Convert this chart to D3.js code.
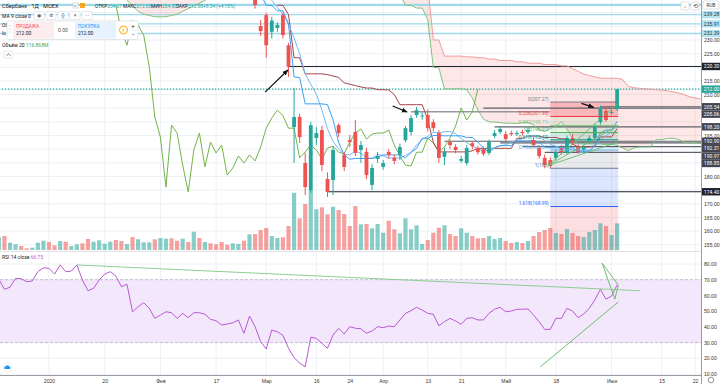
<!DOCTYPE html>
<html><head><meta charset="utf-8">
<script src="https://cdn.jsdelivr.net/npm/d3@7"></script>
<style>html,body{margin:0;padding:0;background:#fff;}svg{display:block;font-family:Roboto,"Liberation Sans",Arial,sans-serif;}</style>
</head><body><svg id="c" width="720" height="384"></svg>
<script>
// ---------------- DATA ----------------
const tickLabels = ["2020","20","Фев","17","Мар","16","24","Апр","13","21","Май","18","Июн","15","22"];
const tickBars   = [0,10,20,30,39,48,54,60,68,74,82,91,101,110,116];

const firstCandle = 37;
const opens = [246.5,235.1,239.1,233.0,234.4,239.1,228.1,198.1,201.8,184.9,
 175.0,194.1,197.0,179.1,178.7,198.8,187.9,193.3,196.3,189.7,
 189.0,176.9,186.4,183.5,189.0,186.8,187.9,193.3,196.3,202.5,
 202.1,202.5,199.9,195.9,187.2,192.6,190.8,185.7,184.9,192.2,
 190.4,190.0,188.6,194.8,196.3,195.5,195.9,195.5,196.3,196.3,
 193.3,190.5,186.8,186.0,186.8,190.4,188.6,194.1,190.8,189.7,
 192.6,194.1,199.9,204.0,203.3,204.67];
const highs = [247.5,237.3,240.0,238.5,236.5,240.0,229.0,212.5,203.0,188.6,
 200.0,198.1,198.5,181.5,191.0,199.5,189.0,195.2,200.7,193.0,
 190.5,184.5,189.0,186.0,190.0,188.0,192.0,198.5,202.5,205.5,
 203.5,204.5,201.0,197.0,190.5,193.5,191.8,187.5,191.5,193.0,
 191.2,191.0,193.5,197.0,198.5,196.5,196.8,196.8,197.2,198.0,
 194.5,191.5,188.0,187.0,190.0,191.5,195.0,195.5,191.8,191.5,
 195.0,199.3,206.0,205.5,204.5,212.0];
const lows = [241.5,231.5,223.4,230.5,233.0,230.5,216.5,184.9,192.3,173.2,
 174.0,191.5,182.0,172.5,173.2,194.5,182.0,190.8,187.5,185.0,
 179.0,175.0,185.0,182.5,186.5,184.5,186.0,192.5,195.0,201.5,
 200.8,196.5,196.5,185.0,184.2,190.0,188.5,185.0,184.0,190.0,
 188.0,187.5,187.8,194.0,195.5,193.0,194.8,194.8,195.0,195.5,
 190.5,186.5,183.0,183.0,186.0,188.0,188.0,191.5,188.3,189.0,
 192.0,193.5,199.0,200.0,202.6,204.0];
const closes = [242.8,233.3,228.1,237.1,235.5,231.8,220.2,201.8,194.4,176.1,
 198.8,195.9,184.2,174.3,189.7,195.9,183.5,192.6,188.6,191.5,
 180.5,183.1,187.5,184.9,187.9,185.7,190.8,197.7,201.4,204.3,
 202.3,197.7,197.7,186.8,189.0,191.5,189.7,186.4,190.4,191.1,
 188.9,188.3,192.6,195.9,197.4,193.7,195.5,195.9,195.9,197.0,
 191.5,187.5,184.2,183.8,188.9,188.9,194.1,192.2,189.0,190.8,
 194.1,198.5,205.1,200.7,203.66,212.0];

const firstVol = -9;
const volumes = [55.6,61.3,32,25,17.5,7.4,10.1,32,40.7,35,
 20.6,39.4,36.4,17.5,25,29.3,48.2,36.4,42.5,27.6,
 36.4,43.8,39.4,26.3,56.9,46.9,33.7,33.7,46.9,52.6,
 49.5,51.2,40.7,49.5,35,80.2,52.6,35,29.3,25,
 35,23.2,29.3,26.3,40.7,68.8,70,87.6,96.4,61.3,
 52.6,55.6,105,251,138.8,201.5,262.8,178.3,187,156.4,
 189.7,175.2,157.7,105.1,192.7,112.6,113.9,95,113.9,75.8,
 128.3,90.7,73.1,138.8,90.7,108.2,26.3,43.8,75.8,97.7,
 108.2,70.1,61.3,95,75.8,61.3,51.2,52.6,61.3,48.2,
 52.6,39.4,30.7,35,30.7,39.4,61.3,78.8,87.6,96.4,
 74.5,70.1,92,74.5,61.3,56.9,78.8,87.6,117,105.1,
 65.7,116.868];
const volUpEarly = [1,0,1,1,0,0,1,1,1,0, 0,1,0,1,1,0,0,1,1,1, 1,0,0,1,0,1,1,1,0,1, 1,0,0,1,0,1,0,1,0,0, 0,0,1,1,0,1];

const firstRsi = -9;
const rsi = [70.3,63.9,65.2,70.9,70.6,68.7,69.2,75.1,77.6,77.2,
 73.6,79.4,75.1,75.5,79.4,69.8,63.0,64.5,69.8,73.6,
 75.1,72.4,65.6,67.1,49.6,52.8,55.4,51.8,45.4,47.5,
 49.6,49.0,45.4,48.6,45.8,49.0,49.0,48.0,44.8,43.9,
 41.2,41.8,42.6,44.4,35.9,46.9,40.1,30.6,25.9,38.0,
 36.9,34.6,26.4,20.4,17.0,14.5,33.4,32.7,29.5,26.4,
 34.8,39.1,35.5,40.1,39.1,38.8,35.9,37.4,40.1,39.5,
 40.5,40.1,44.4,48.6,50.3,52.4,50.7,48.6,48.0,40.7,
 43.3,45.4,43.7,41.6,45.4,45.8,44.4,44.4,48.6,51.2,
 52.4,49.6,50.1,51.2,51.2,51.4,47.5,43.3,38.4,38.4,
 45.4,45.4,51.8,50.1,45.8,48.2,51.8,57.1,63.9,57.6,
 59.6,66.75];

const firstTenkan = 38;
const tenkan = [246.8,242.7,242.7,240.7,240.7,235.8,216.5,216.2,206.6,206.6,
 206.6,206.6,206.3,200.8,192.5,187.8,186.3,186.6,186.6,186.6,
 186.6,187.0,187.9,187.9,187.9,187.9,186.8,188.8,190.3,194.0,
 194.0,195.0,195.0,194.9,194.9,194.9,194.9,194.3,194.3,192.5,
 190.5,188.8,190.5,191.3,191.3,191.3,193.0,193.0,193.0,193.2,
 192.5,190.8,190.5,190.5,190.5,190.5,190.5,189.3,189.3,189.3,
 191.2,196.0,197.0,197.0,200.2];
const firstMa9 = 39;
const ma9 = [247.0,244.5,242.0,239.4,235.9,230.7,225.0,217.6,213.8,210.2,
 204.3,197.5,192.8,190.1,188.1,187.9,189.3,188.5,186.8,186.6,
 188.1,187.6,186.7,186.9,186.7,187.7,188.8,191.5,193.6,194.7,
 196.2,196.0,196.4,196.5,195.6,193.9,192.4,191.1,190.2,189.1,
 189.8,190.5,191.2,191.6,192.6,193.3,193.8,194.7,195.0,194.5,
 193.2,191.7,191.1,190.4,190.2,189.8,188.9,188.8,189.6,191.1,
 193.5,194.8,196.5,198.5];
const firstKijun = 41;
const kijun = [242.7,242.7,239.3,223.5,223.5,217.6,217.6,217.6,217.6,217.3,
 216.8,216.3,214.3,213.8,213.3,212.8,212.4,212.4,211.8,211.8,
 211.7,210.0,206.3,206.3,206.3,206.3,206.3,200.8,192.5,189.0,
 189.0,189.0,189.0,189.0,189.0,189.4,190.3,190.3,190.3,190.3,
 190.3,190.3,190.3,194.0,194.0,194.8,194.8,194.8,194.3,194.3,
 194.3,193.8,193.8,192.0,190.8,190.8,190.8,191.2,194.5,194.5,
 194.5,197.5];
const laggingShift = 25;

const spanEarlyStart = 13;
const spanAEarly = [247.0,244.6,242.5,240.5,239.5,239.0,238.5,238.5,238.5,239.0,239.5,240.5,241.5,242.5,243.5,244.5,246.0,248.0,251.0];
const spanBEarly = [250,250,250,250,250,250,250,250,250,250,250,250,250,250,250,250,250,250,250];
const spanLateStart = 63;
const spanALate = [247.0,242.7,242.7,241.7,241.7,237.5,220.0,219.8,212.1,212.1,212.1,212.1,211.8,208.8,204.4,201.0,200.0,199.9,199.7,199.5,
 199.5,199.4,199.8,199.8,198.9,197.1,196.5,197.5,198.3,200.1,197.4,193.8,192.0,191.9,191.9,191.9,191.9,191.6,191.8,191.4,
 190.4,189.5,190.4,190.8,190.8,190.8,193.5,193.5,193.9,194.0,193.6,192.5,192.4,192.4,192.1];
const spanBLate = [250,250,250,250,250,250,230.0,230.0,224.1,224.1,224.1,224.1,223.8,223.8,223.5,223.5,223.0,223.0,222.5,222.5,
 222.5,222.0,222.0,221.5,221.5,221.5,221.0,221.0,221.0,220.5,220.5,219.5,218.5,217.5,217.0,216.5,216.0,216.0,216.0,216.0,
 215.5,213.0,212.5,212.3,212.1,212.0,211.8,211.6,211.4,211.0,210.6,210.0,209.2,208.8,208.4];

const levelPrices  = [242.90,239.28,235.91,232.39,220.30,212.00,205.54,205.06,198.20,192.90,192.31,190.97,188.85,174.40];
const levelFromBar = [-9,-9,-9,-9,43,-9,99,78,80,71,81,85,89,50];
const levelGroup   = ["alert","alert","alert","alert","line","last","zone","zone","zone","zone","zone","zone","zone","line"];
const levelHasLabel= [false,true,true,true,true,true,true,true,true,true,true,true,true,true];
const segPrices = [203.7]; const segFrom = [65]; const segTo = [90];

const fibRatios = [0,0.236,0.382,0.5,0.618,0.786,1,1.618,2.618];
const fibPrices = [207.27,201.98,198.71,196.07,193.43,189.67,183,168.99,143.73];
const fibFrom = 90, fibTo = 102.2;
const fanFrom = [89.6,184.0];
const fanTo = [[102,206.5],[102,198.5],[102,192.5]];

const arrowFrom = [[38.8,210.9],[61.7,205.8],[95.6,206.8]];
const arrowTo   = [[42.9,219.0],[64.3,203.6],[97.8,205.3]];

const rsiLines = [[5,79.4,106.1,63.0],[88.2,14.5,102.2,55.8],[99.3,80.6,102.2,66.6],[99.3,80.6,101.6,57.7],[102.2,66.6,101.6,57.7]];
const priceTicks = [155,160,165,170,175,180,185,190,195,200,205,210,215,220,225,230,235,240];
const rsiTicks = [10,20,30,40,50,60,70,80];

// ---------------- CHART ----------------
const svg = d3.select("#c");
const PR = 701;
const x = d3.scaleLinear().domain([-8.797, 117.06]).range([0, PR]);
const y = d3.scaleLinear().domain([155, 230]).range([244.7, 40]);
const yV = d3.scaleLinear().domain([0, 263]).range([250, 190]);
const yR = d3.scaleLinear().domain([10, 80]).range([374, 264]);
const UP = "#26a69a", DN = "#ef5350";
const AF = 5.1; // axis font size

svg.append("rect").attr("width",720).attr("height",384).attr("fill","#fff");
const defs = svg.append("defs");
defs.append("clipPath").attr("id","cm").append("rect").attr("x",0).attr("y",0).attr("width",PR).attr("height",250.5);
defs.append("clipPath").attr("id","cr").append("rect").attr("x",0).attr("y",252).attr("width",PR).attr("height",123.5);
const mk = defs.append("marker").attr("id","ah").attr("viewBox","0 0 10 10").attr("refX",9).attr("refY",5)
  .attr("markerWidth",5).attr("markerHeight",5).attr("orient","auto");
mk.append("path").attr("d","M0,1 L10,5 L0,9 z").attr("fill","#111");

// grid
const grid = svg.append("g");
tickBars.forEach(b => grid.append("line").attr("x1",x(b)).attr("x2",x(b)).attr("y1",0).attr("y2",375.5).attr("stroke","#edf0f5"));
priceTicks.forEach(p => { const yy=y(p); if(yy>=0&&yy<=250) grid.append("line").attr("x1",0).attr("x2",PR).attr("y1",yy).attr("y2",yy).attr("stroke","#edf0f5"); });
rsiTicks.forEach(r => grid.append("line").attr("x1",0).attr("x2",PR).attr("y1",yR(r)).attr("y2",yR(r)).attr("stroke","#edf0f5"));

const gm = svg.append("g").attr("clip-path","url(#cm)");

// cloud
function spanData(start, a, b){ return a.map((v,k)=>({i:start+k,a:v,b:b[k]})); }
const cloudSets = [spanData(spanEarlyStart, spanAEarly, spanBEarly), spanData(spanLateStart, spanALate, spanBLate)];
const cloudArea = d3.area().x(d=>x(d.i)).y0(d=>y(d.a)).y1(d=>y(d.b));
cloudSets.forEach(s => gm.append("path").datum(s).attr("d",cloudArea).attr("fill","rgba(244,67,54,0.12)"));

// fib fills
for(let k=0;k<fibPrices.length-1;k++){
  const fc = ["#f23645","#81c784","#4caf50","#089981","#64b5f6","#787b86","#2962ff","#f23645"][k];
  gm.append("rect").attr("x",x(fibFrom)).attr("width",x(fibTo)-x(fibFrom))
    .attr("y",y(fibPrices[k])).attr("height",y(fibPrices[k+1])-y(fibPrices[k]))
    .attr("fill",fc).attr("opacity",k===0?0.28:0.16);
}

// volume
volumes.forEach((v,k)=>{
  const i = firstVol + k;
  let up;
  if(i < firstCandle) up = volUpEarly[i-firstVol]===1;
  else { const c=i-firstCandle; up = closes[c] >= opens[c]; }
  gm.append("rect").attr("x",x(i)-2.1).attr("width",4.2).attr("y",yV(v)).attr("height",250-yV(v))
    .attr("fill", up ? "rgba(38,166,154,0.55)" : "rgba(239,83,80,0.55)");
});

// level lines
const levelStyle = {
  alert:{stroke:"#9dd9ea",w:1.4,dash:null,bg:"#b4e4f0",fg:"#17324a"},
  line:{stroke:"#1e222d",w:1,dash:null,bg:"#1e222d",fg:"#fff"},
  last:{stroke:"#26a69a",w:1.2,dash:"1.5,1.5",bg:"#26a69a",fg:"#fff"},
  zone:{stroke:"#5d606b",w:1.2,dash:null,bg:"#434651",fg:"#fff"}
};
levelPrices.forEach((p,k)=>{
  const st = levelStyle[levelGroup[k]];
  const ln = gm.append("line").attr("x1",x(levelFromBar[k])).attr("x2",PR).attr("y1",y(p)).attr("y2",y(p))
    .attr("stroke",st.stroke).attr("stroke-width",k===0?2.2:st.w);
  if(st.dash) ln.attr("stroke-dasharray",st.dash);
});
segPrices.forEach((p,k)=> gm.append("line").attr("x1",x(segFrom[k])).attr("x2",x(segTo[k])).attr("y1",y(p)).attr("y2",y(p))
  .attr("stroke","#9598a1").attr("stroke-width",1.6));

// cloud lines
const lineA = d3.line().x(d=>x(d.i)).y(d=>y(d.a));
const lineB = d3.line().x(d=>x(d.i)).y(d=>y(d.b));
cloudSets.forEach(s=>{
  gm.append("path").datum(s).attr("d",lineA).attr("fill","none").attr("stroke","#7fc27f").attr("stroke-width",1);
  gm.append("path").datum(s).attr("d",lineB).attr("fill","none").attr("stroke","#ee9a9a").attr("stroke-width",1);
});

// indicator lines
function series(start, arr){ return arr.map((v,k)=>({i:start+k,v:v})); }
const lineV = d3.line().x(d=>x(d.i)).y(d=>y(d.v));
gm.append("path").datum(series(firstCandle-laggingShift, closes)).attr("d",lineV).attr("fill","none").attr("stroke","#73b348").attr("stroke-width",1);
gm.append("path").datum(series(firstKijun, kijun)).attr("d",lineV).attr("fill","none").attr("stroke","#a4454b").attr("stroke-width",1);
gm.append("path").datum(series(firstMa9, ma9)).attr("d",lineV).attr("fill","none").attr("stroke","#72b9f2").attr("stroke-width",1);
gm.append("path").datum(series(firstTenkan, tenkan)).attr("d",lineV).attr("fill","none").attr("stroke","#3d9ef0").attr("stroke-width",1);

// candles
opens.forEach((o,k)=>{
  const i = firstCandle+k, c = closes[k], up = c>=o, col = up?UP:DN;
  gm.append("line").attr("x1",x(i)).attr("x2",x(i)).attr("y1",y(highs[k])).attr("y2",y(lows[k])).attr("stroke",col).attr("stroke-width",1);
  const top = y(Math.max(o,c)), bot = y(Math.min(o,c));
  gm.append("rect").attr("x",x(i)-1.9).attr("width",3.8).attr("y",top).attr("height",Math.max(0.8,bot-top)).attr("fill",col);
});

// fib lines + labels
const fibCols = ["#787b86","#f23645","#81c784","#4caf50","#089981","#64b5f6","#787b86","#2962ff","#f23645"];
const fmtP = p => (p%1===0) ? String(p) : p.toFixed(2);
fibPrices.forEach((p,k)=>{
  gm.append("line").attr("x1",x(fibFrom)).attr("x2",x(fibTo)).attr("y1",y(p)).attr("y2",y(p)).attr("stroke",fibCols[k]).attr("stroke-width",1);
  gm.append("text").attr("x",x(fibFrom)-1.5).attr("y",y(p)-1.2).attr("text-anchor","end").attr("font-size",4.8)
    .attr("fill",fibCols[k]).text(fibRatios[k]+"("+fmtP(p)+")");
});
fanTo.forEach(t=> gm.append("line").attr("x1",x(fanFrom[0])).attr("y1",y(fanFrom[1])).attr("x2",x(t[0])).attr("y2",y(t[1]))
  .attr("stroke","#66bb6a").attr("stroke-width",0.9));
arrowFrom.forEach((f,k)=> gm.append("line").attr("x1",x(f[0])).attr("y1",y(f[1])).attr("x2",x(arrowTo[k][0])).attr("y2",y(arrowTo[k][1]))
  .attr("stroke","#111").attr("stroke-width",1.2).attr("marker-end","url(#ah)"));

// separators
svg.append("line").attr("x1",0).attr("x2",PR).attr("y1",251.5).attr("y2",251.5).attr("stroke","#dfe1e6");
// RSI pane
const gr = svg.append("g").attr("clip-path","url(#cr)");
gr.append("rect").attr("x",0).attr("width",PR).attr("y",yR(70)).attr("height",yR(30)-yR(70)).attr("fill","#f3e7fc");
[70,30].forEach(r=> gr.append("line").attr("x1",0).attr("x2",PR).attr("y1",yR(r)).attr("y2",yR(r)).attr("stroke","#b9b1c6").attr("stroke-dasharray","3,2").attr("stroke-width",0.8));
gr.append("path").datum(series(firstRsi, rsi)).attr("d", d3.line().x(d=>x(d.i)).y(d=>yR(d.v)))
  .attr("fill","none").attr("stroke","#b85ad1").attr("stroke-width",1);
rsiLines.forEach((l,k)=> gr.append("line").attr("x1",x(l[0])).attr("y1",yR(l[1])).attr("x2",x(l[2])).attr("y2",yR(l[3]))
  .attr("stroke", k===0?"#8bcf8f":"#6cbf70").attr("stroke-width",1));

// axes frames
svg.append("line").attr("x1",PR+0.5).attr("x2",PR+0.5).attr("y1",0).attr("y2",384).attr("stroke","#9a9ca4");
svg.append("line").attr("x1",0).attr("x2",PR+0.5).attr("y1",375.5).attr("y2",375.5).attr("stroke","#9a9ca4");

// level labels (stacked)
const labs = [];
levelPrices.forEach((p,k)=>{ if(levelHasLabel[k]) labs.push({p:p, g:levelGroup[k], yy:y(p)}); });
labs.sort((a,b)=>a.yy-b.yy);
for(let k=1;k<labs.length;k++){ if(labs[k].yy < labs[k-1].yy+7.4) labs[k].yy = labs[k-1].yy+7.4; }

// price axis
const pAxis = svg.append("g").attr("transform","translate("+(PR+1)+",0)")
  .call(d3.axisRight(y).tickValues(priceTicks).tickSize(0).tickPadding(2).tickFormat(d3.format(".2f")));
pAxis.select(".domain").remove();
pAxis.selectAll("text").attr("font-size",AF).attr("fill","#333");
pAxis.selectAll(".tick").each(function(d){
  const yy = y(d);
  const hide = yy<3 || yy>248 || labs.some(l=>Math.abs(l.yy-yy)<5.3);
  if(hide) d3.select(this).remove();
});
labs.forEach(l=>{
  const st = levelStyle[l.g];
  svg.append("rect").attr("x",PR+1).attr("y",l.yy-3.7).attr("width",19).attr("height",7.4).attr("fill",st.bg);
  svg.append("text").attr("x",PR+2.8).attr("y",l.yy).attr("dy","0.35em").attr("font-size",AF).attr("fill",st.fg).text(l.p.toFixed(2));
});
svg.append("rect").attr("x",703).attr("y",1).attr("width",16).attr("height",8).attr("rx",1).attr("fill","#fff").attr("stroke","#c8cbd2").attr("stroke-width",0.6);
svg.append("text").attr("x",711).attr("y",5).attr("dy","0.35em").attr("text-anchor","middle").attr("font-size",4.8).attr("fill","#333").text("RUB");
[681,691].forEach((bx,k)=>{
  svg.append("rect").attr("x",bx).attr("y",2).attr("width",8).attr("height",8).attr("rx",1).attr("fill","#fff").attr("stroke","#c8cbd2").attr("stroke-width",0.6);
  svg.append("text").attr("x",bx+4).attr("y",6).attr("dy","0.35em").attr("text-anchor","middle").attr("font-size",5.5).attr("fill","#444").text(k===0?"↓":"⟲");
});

// rsi axis
const rAxis = svg.append("g").attr("transform","translate("+(PR+1)+",0)")
  .call(d3.axisRight(yR).tickValues(rsiTicks).tickSize(0).tickPadding(2).tickFormat(d3.format(".2f")));
rAxis.select(".domain").remove();
rAxis.selectAll("text").attr("font-size",AF).attr("fill","#333");

// time axis
const tAxis = svg.append("g").attr("transform","translate(0,375.5)")
  .call(d3.axisBottom(x).tickValues(tickBars).tickSize(0).tickPadding(3.4).tickFormat((d,k)=>tickLabels[k]));
tAxis.select(".domain").remove();
tAxis.selectAll("text").attr("font-size",AF).attr("fill","#333");
svg.append("circle").attr("cx",711).attr("cy",380).attr("r",2.8).attr("fill","none").attr("stroke","#666").attr("stroke-width",0.7);
svg.append("circle").attr("cx",7.5).attr("cy",367.5).attr("r",4.5).attr("fill","#fff").attr("stroke","#dfe1e6").attr("stroke-width",0.6);
svg.append("path").attr("d","M4.8,369 a1.6,1.6 0 0 1 1,-2.8 a2,2 0 0 1 3.6,0.4 a1.3,1.3 0 0 1 0.4,2.4 z").attr("fill","#2196f3");

// ---------------- legends ----------------
const T = (xx,yy,s,txt,col,w)=> svg.append("text").attr("x",xx).attr("y",yy).attr("font-size",s).attr("fill",col||"#131722").attr("font-weight",w||"normal").text(txt);
T(2,8,5.6,"Сбербанк · 1Д · MOEX","#131722");
svg.append("rect").attr("x",73).attr("y",3).attr("width",5).attr("height",5).attr("fill","#fff").attr("stroke","#bbb").attr("stroke-width",0.5);
T(73.8,7.5,5,"=","#888");
svg.append("rect").attr("x",80).attr("y",3).attr("width",5).attr("height",5).attr("fill","#ff9800").attr("opacity",0.85);
const ohlcLbl = ["ОТКР","МАКС","МИН","ЗАКР"], ohlcVal = ["204.67","212.00","204.00","212.00"], ohlcX=[95,123,151,176];
ohlcLbl.forEach((l,k)=>{ const t = svg.append("text").attr("x",ohlcX[k]).attr("y",8).attr("font-size",4.8).attr("fill","#131722");
  t.append("tspan").text(l); t.append("tspan").attr("fill",UP).text(ohlcVal[k]); });
T(203,8,4.8,"+8.34 (+4.10%)",UP);

T(2,17.5,5,"MA 9 close 0","#131722");
const icons = ["◉","⚙","{}","×","···"];
[34,46,58,70,82].forEach((bx,k)=>{
  svg.append("rect").attr("x",bx).attr("y",11.5).attr("width",10).attr("height",8).attr("rx",1).attr("fill","#fff").attr("stroke","#d6d8de").attr("stroke-width",0.6);
  svg.append("text").attr("x",bx+5).attr("y",15.5).attr("dy","0.35em").attr("text-anchor","middle").attr("font-size",5).attr("fill","#555").text(icons[k]);
});
T(2,27,5,"Об","#131722"); T(2,35,5,"Ic","#131722");
// trading widget
svg.append("rect").attr("x",7).attr("y",21).attr("width",131).attr("height",18.5).attr("rx",1.5).attr("fill","#fff").attr("stroke","#d9dbe0").attr("stroke-width",0.7);
svg.append("rect").attr("x",13).attr("y",22).attr("width",41).attr("height",16.5).attr("fill","#fdecee");
svg.append("rect").attr("x",75).attr("y",22).attr("width",41).attr("height",16.5).attr("fill","#e6f2fd");
[[9.5,26],[9.5,29],[9.5,32],[11,26],[11,29],[11,32]].forEach(p=>svg.append("circle").attr("cx",p[0]).attr("cy",p[1]).attr("r",0.45).attr("fill","#999"));
T(16,28,4.6,"ПРОДАЖА","#ef5350"); T(16,35,5,"212.00","#131722");
T(58,32,5,"0.00","#555");
T(78,28,4.6,"ПОКУПКА","#2196f3"); T(78,35,5,"212.00","#131722");
svg.append("circle").attr("cx",123.5).attr("cy",30).attr("r",4).attr("fill","#fff").attr("stroke","#ff9800").attr("stroke-width",0.9);
T(122.6,32,5,"i","#ff9800","bold");
T(131.2,28,6,"+","#333"); T(131.5,36.5,6,"−","#333");
svg.append("line").attr("x1",130).attr("x2",137).attr("y1",30.2).attr("y2",30.2).attr("stroke","#ddd").attr("stroke-width",0.5);

const vt = svg.append("text").attr("x",2).attr("y",46.5).attr("font-size",5).attr("fill","#131722");
vt.append("tspan").text("Объём 20  "); vt.append("tspan").attr("fill","#3aa757").text("116.868M");
svg.append("rect").attr("x",4).attr("y",51).attr("width",9).attr("height",7).attr("rx",1).attr("fill","#fff").attr("stroke","#d6d8de").attr("stroke-width",0.6);
svg.append("path").attr("d","M6.5,55.8 L8.5,53.5 L10.5,55.8").attr("fill","none").attr("stroke","#555").attr("stroke-width",0.7);

const rt = svg.append("text").attr("x",2).attr("y",258.5).attr("font-size",5).attr("fill","#131722");
rt.append("tspan").text("RSI 14 close  "); rt.append("tspan").attr("fill","#b85ad1").text("66.75");
</script></body></html>
